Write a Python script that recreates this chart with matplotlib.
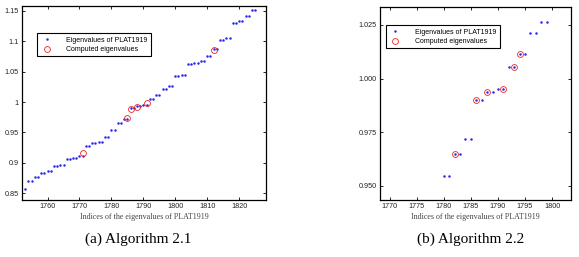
import numpy as np
import matplotlib
matplotlib.use('Agg')
import matplotlib.pyplot as plt

# eigenvalues of PLAT1919 around index 1753..1825
idx = list(range(1753, 1826))
eig = [0.857,
       0.870, 0.870, 0.877, 0.877, 0.883, 0.883, 0.886, 0.886,
       0.894, 0.894, 0.897, 0.897, 0.906, 0.906, 0.908, 0.908,
       0.912, 0.912, 0.927, 0.927, 0.932, 0.932, 0.935, 0.935,
       0.942, 0.942, 0.9548, 0.9548, 0.965, 0.965, 0.9717, 0.9717,
       0.9902, 0.9902, 0.9936, 0.9936, 0.9952, 0.9952, 1.0054, 1.0054,
       1.0115, 1.0115, 1.0213, 1.0213, 1.0264, 1.0264, 1.043, 1.043,
       1.044, 1.044, 1.062, 1.062, 1.064, 1.064, 1.067, 1.067,
       1.075, 1.075, 1.088, 1.088, 1.102, 1.102, 1.106, 1.106,
       1.130, 1.130, 1.133, 1.133, 1.141, 1.141, 1.151, 1.151]

# computed eigenvalues
idx_a = [1771, 1785, 1786, 1788, 1791, 1812]
val_a = [0.916, 0.973, 0.988, 0.992, 0.999, 1.086]
idx_b = [1782, 1786, 1788, 1791, 1793, 1794]
val_b = [0.965, 0.9902, 0.9936, 0.9952, 1.0054, 1.0115]

yt_a = [0.85, 0.9, 0.95, 1.0, 1.05, 1.1, 1.15]
ytl_a = ['0.85', '0.9', '0.95', '1', '1.05', '1.1', '1.15']
yt_b = [0.950, 0.975, 1.000, 1.025]
ytl_b = ['0.950', '0.975', '1.000', '1.025']

plt.rcParams['font.family'] = ['Liberation Sans', 'DejaVu Sans']

fig = plt.figure(figsize=(5.79, 2.57), dpi=100)
ax1 = fig.add_axes([0.038, 0.222, 0.4214, 0.7549])
ax2 = fig.add_axes([0.6563, 0.222, 0.3299, 0.752])


def draw(ax, ci, cv):
    ax.plot(idx, eig, '.', color='#2a2aee', markersize=1.6,
            label='Eigenvalues of PLAT1919')
    ax.plot(ci, cv, 'o', mfc='none', mec='#ee2222', markersize=4.2, mew=0.6,
            label='Computed eigenvalues')
    ax.tick_params(direction='in', top=True, right=True, labelsize=5.2,
                   length=2.5, width=0.6, pad=2.5, labelcolor='#222222')
    for s in ax.spines.values():
        s.set_linewidth(0.9)
    ax.set_xlabel('Indices of the eigenvalues of PLAT1919',
                  family='Liberation Serif', fontsize=5.8, labelpad=2,
                  color='#444444')


def add_legend(ax, anchor):
    leg = ax.legend(loc='upper left', bbox_to_anchor=anchor, fontsize=5.0,
                    fancybox=False, edgecolor='black', framealpha=1,
                    handlelength=1.8, handletextpad=1.9, borderpad=0.5,
                    labelspacing=0.35, borderaxespad=0)
    leg.get_frame().set_linewidth(0.8)


draw(ax1, idx_a, val_a)
ax1.set_xlim(1752, 1828.4)
ax1.set_ylim(0.839, 1.158)
ax1.set_xticks(range(1760, 1821, 10))
ax1.set_yticks(yt_a)
ax1.set_yticklabels(ytl_a)
add_legend(ax1, (0.062, 0.86))

draw(ax2, idx_b, val_b)
ax2.set_xlim(1768.2, 1803.5)
ax2.set_ylim(0.9435, 1.0335)
ax2.set_xticks(range(1770, 1801, 5))
ax2.set_yticks(yt_b)
ax2.set_yticklabels(ytl_b)
add_legend(ax2, (0.03, 0.905))

fig.text(0.238, 0.068, '(a) Algorithm 2.1', family='Liberation Serif',
         fontsize=11, ha='center', va='center')
fig.text(0.812, 0.068, '(b) Algorithm 2.2', family='Liberation Serif',
         fontsize=11, ha='center', va='center')

fig.savefig('out.png', dpi=100)
